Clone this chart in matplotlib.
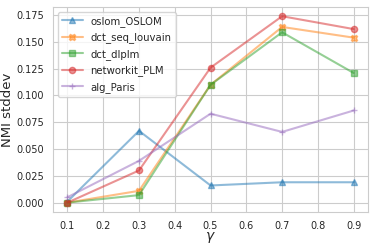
import matplotlib
matplotlib.use("Agg")
import matplotlib.pyplot as plt
import seaborn as sns

sns.set_style("whitegrid")

gamma = [0.1, 0.3, 0.5, 0.7, 0.9]
oslom = [0.001, 0.067, 0.016, 0.019, 0.019]
louvain = [0.0, 0.011, 0.110, 0.164, 0.154]
dlplm = [0.0, 0.007, 0.110, 0.159, 0.121]
plm = [0.0, 0.030, 0.126, 0.174, 0.162]
paris = [0.005, 0.039, 0.083, 0.066, 0.086]

fig, ax = plt.subplots(figsize=(3.74, 2.47), dpi=100)
ms = 4.5
ax.plot(gamma, oslom, marker='^', markersize=ms, alpha=0.5, label="oslom_OSLOM")
ax.plot(gamma, louvain, marker='X', markersize=ms, alpha=0.5, label="dct_seq_louvain")
ax.plot(gamma, dlplm, marker='s', markersize=ms, alpha=0.5, label="dct_dlplm")
ax.plot(gamma, plm, marker='o', markersize=ms, alpha=0.5, label="networkit_PLM")
ax.plot(gamma, paris, marker='+', markersize=ms, alpha=0.5, label="alg_Paris")

ax.set_xticks([0.1, 0.2, 0.3, 0.4, 0.5, 0.6, 0.7, 0.8, 0.9])
ax.set_yticks([0.0, 0.025, 0.05, 0.075, 0.1, 0.125, 0.15, 0.175])
ax.tick_params(labelsize=7, pad=3)
ax.set_xlabel(r"$\gamma$", fontsize=10)
ax.set_ylabel("NMI stddev", fontsize=9.5)
ax.legend(fontsize=7.3, loc='upper left', labelspacing=0.55)
fig.subplots_adjust(left=0.142, right=0.984, top=0.972, bottom=0.142)
ax.xaxis.set_label_coords(0.5, -0.09)
ax.yaxis.set_label_coords(-0.125, 0.5)
fig.savefig("out.png")
